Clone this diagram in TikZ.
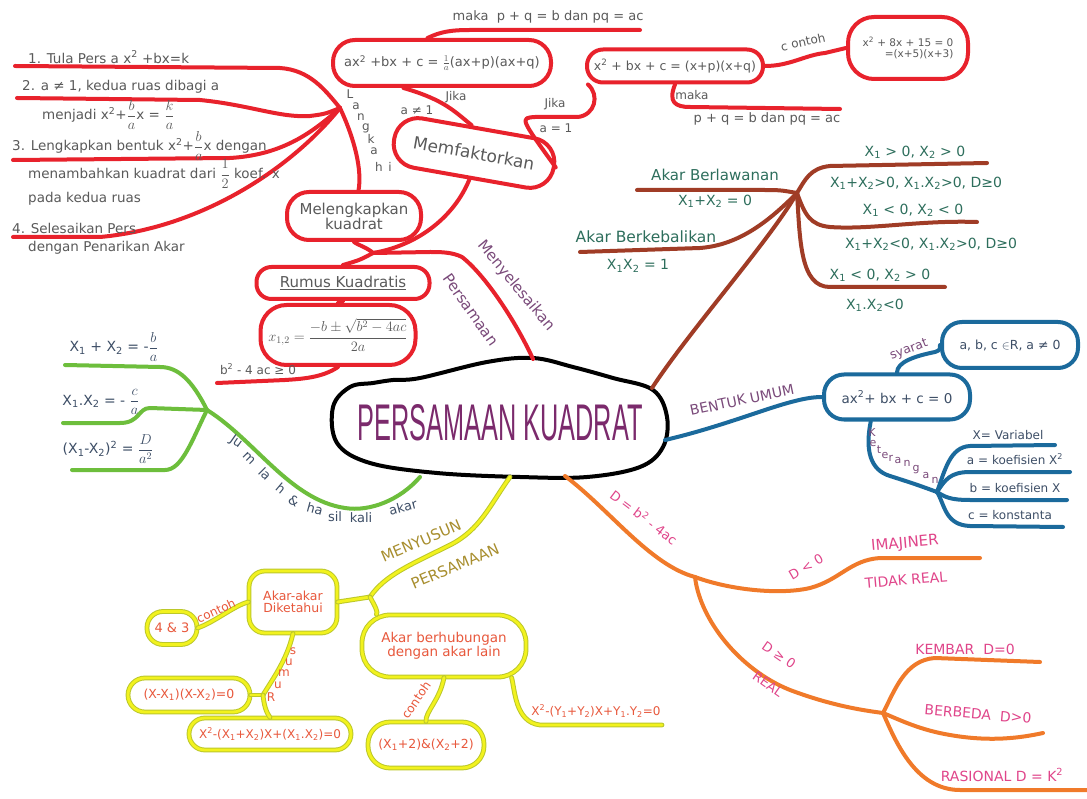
\documentclass[tikz,border=0pt]{standalone}
\usepackage{fontspec}
\usepackage{graphicx}
\setmainfont{DejaVu Sans}
\usetikzlibrary{shapes.geometric}
\newcommand\fsz[1]{\fontsize{#1}{#1}\selectfont}
\newcommand\Xone{X\textsubscript{1}}
\newcommand\Xtwo{X\textsubscript{2}}
\newcommand\spr[1]{\textsuperscript{#1}}
\newcommand\dfr[2]{$\displaystyle\frac{#1}{#2}$}
\definecolor{cred}{HTML}{E8222C}
\definecolor{cgreen}{HTML}{6DBE3C}
\definecolor{cyel}{HTML}{F2F21E}
\definecolor{cyedge}{HTML}{BCC82A}
\definecolor{cora}{HTML}{F07A2A}
\definecolor{cblue}{HTML}{1B6A9C}
\definecolor{cbrown}{HTML}{A03C26}
\definecolor{cgray}{HTML}{5A5A5A}
\definecolor{cpurp}{HTML}{7A4A7A}
\definecolor{cpink}{HTML}{E0458A}
\definecolor{cteal}{HTML}{2D6E5C}
\definecolor{cslate}{HTML}{3D4E66}
\definecolor{cgold}{HTML}{A88E2E}
\definecolor{cyt}{HTML}{E8583C}
\definecolor{ctitle}{HTML}{7B2A6C}
\begin{document}
\begin{tikzpicture}[x=1pt,y=-1pt,
  ln/.style={line width=4pt, line cap=round, line join=round},
  redl/.style={ln, draw=cred},
  grnl/.style={ln, draw=cgreen},
  yell/.style={draw=cyedge, double=cyel, double distance=2.8pt, line width=1pt, line cap=round, line join=round},
  oral/.style={ln, draw=cora},
  blul/.style={ln, draw=cblue},
  brol/.style={ln, draw=cbrown},
  rb/.style={rectangle, line width=4pt, inner sep=0pt, rounded corners=#1},
  yb/.style={rectangle, yell, inner sep=0pt, rounded corners=#1},
  t/.style={inner sep=0pt, text=cgray, font=\fsz{12}},
  tl/.style={t, anchor=west, font=\fsz{13.5}},
]
\useasboundingbox[fill=white] (0,0) rectangle (1087,799);

% ---------- centre ----------
\coordinate (cN) at (533,359);
\coordinate (cNE) at (652,388);
\coordinate (cE) at (665,440);
\coordinate (cSE) at (565,476);
\coordinate (cS) at (510,477);
\coordinate (cSW) at (420,477);
\draw[line width=4pt, black] plot[smooth cycle, tension=0.6] coordinates
 {(350,387) (373,383) (393,380) (420,378) (487,362) (533,358) (573,367) (613,378) (653,390) (667,417) (663,447) (640,467) (587,477) (520,477) (437,473) (370,463) (337,443) (333,407)};
\node[text=ctitle] (title) at (500,423) {\resizebox{285pt}{36pt}{\fontspec{Liberation Sans}PERSAMAAN KUADRAT}};

% ---------- red branch ----------
\coordinate (rj) at (373,253);
\coordinate (lh) at (340,108);
\node[rb=22pt, draw=cred, minimum width=134, minimum height=48, align=center, text=cgray, font=\fsz{15}] (mk) at (354,216) {Melengkapkan\\kuadrat};
\node[rb=24pt, draw=cred, minimum width=162, minimum height=50, text=cgray, font=\fsz{17}, rotate=-10] (mf) at (474,153) {Memfaktorkan};
\node[rb=22pt, draw=cred, minimum width=218, minimum height=46, text=cgray, font=\fsz{13}] (f1) at (442,63) {ax\spr{2} +bx + c = $\frac{1}{a}$(ax+p)(ax+q)};
\node[rb=16pt, draw=cred, minimum width=176, minimum height=33, text=cgray, font=\fsz{12.5}] (f2) at (675,66) {x\spr{2} + bx + c = (x+p)(x+q)};
\node[rb=26pt, draw=cred, minimum width=120, minimum height=62, text=cgray, font=\fsz{10.5}, align=right] (ex) at (908,48) {x\spr{2} + 8x + 15 = 0\\=(x+5)(x+3)};
\node[rb=15pt, draw=cred, minimum width=173, minimum height=32, text=cgray, font=\fsz{15}] (rk) at (343,283) {\underline{Rumus Kuadratis}};
\node[rb=26pt, draw=cred, minimum width=155, minimum height=60, text=cgray, font=\fsz{14}] (fb) at (338,335) {$\displaystyle x_{1,2}=\frac{-b\pm\sqrt{b^2-4ac}}{2a}$};

\draw[redl] (cN) .. controls (515,320) and (485,275) .. (462,257) .. controls (452,252) and (440,252) .. (430,252) -- (rj);
\draw[redl] (rj) .. controls (368,248) and (358,245) .. (mk.south);
\draw[redl] (rj) .. controls (420,245) and (455,215) .. (mf.south);
\draw[redl] (rj) .. controls (360,260) .. (rk.north);
\draw[redl] (rk.south) -- (fb.north);
\coordinate (bl) at (217,383);
\draw[redl] (fb.south) .. controls (322,378) and (300,379) .. (285,380) -- (bl);
\node[t, font=\fsz{12}] at (258,369) {b\spr{2} - 4 ac ≥ 0};

% Memfaktorkan sub-branches
\draw[redl] (mf.105) .. controls (455,112) and (445,100) .. (f1.213);
\node[t] at (456,97) {Jika};
\node[t] at (417,110) {a ≠ 1};
\coordinate (mk1) at (640,30);
\draw[redl] (f1.120) .. controls (440,32) and (450,30) .. (470,30) -- (mk1);
\node[t, font=\fsz{13}] at (548,17) {maka \ p + q = b dan pq = ac};
\draw[redl] (mf.east) .. controls (520,118) .. (535,117) -- (578,117) .. controls (595,115) and (600,95) .. (f2.192);
\node[t] at (555,104) {Jika};
\node[t] at (556,128) {a = 1};
\coordinate (mk2) at (840,109);
\draw[redl] (f2.south) .. controls (668,102) and (675,107) .. (690,107) -- (mk2);
\node[t] at (692,95) {maka};
\node[t, font=\fsz{13}] at (767,119) {p + q = b dan pq = ac};
\draw[redl] (f2.east) .. controls (790,66) and (805,55) .. (825,53) -- (ex.west);
\node[t, rotate=12] at (803,42) {c ontoh};

% Langkah
\draw[redl] (15,66) -- (280,68) .. controls (310,70) and (325,90) .. (lh);
\draw[redl] (17,98) -- (200,100) .. controls (250,105) and (280,118) .. (310,116) .. controls (325,114) .. (lh);
\draw[redl] (13,160) -- (230,158) .. controls (280,155) and (310,135) .. (lh);
\draw[redl] (13,237) -- (100,237) .. controls (200,228) and (290,170) .. (lh);
\draw[redl] (lh) .. controls (355,140) and (362,170) .. (mk.80);
\foreach \c/\x/\y in {L/350/94, a/356/106, n/361/117, g/366/128, k/371/139, a/374/151, h/379/167, i/390/167}
  \node[t, font=\fsz{12}] at (\x,\y) {\c};
\node[tl] at (28,57) {1. Tula Pers a x\spr{2} +bx=k};
\node[tl] at (22,87) {2. a ≠ 1, kedua ruas dibagi a};
\node[tl] at (42,115) {menjadi x\spr{2}+\dfr{b}{a}x = \dfr{k}{a}};
\node[tl] at (12,146) {3. Lengkapkan bentuk x\spr{2}+\dfr{b}{a}x dengan};
\node[tl] at (28,174) {menambahkan kuadrat dari \dfr{1}{2} koef. x};
\node[tl] at (28,199) {pada kedua ruas};
\node[tl] at (12,228) {4. Selesaikan Pers};
\node[tl] at (28,248) {dengan Penarikan Akar};
\node[t, text=cpurp, font=\fsz{15}, rotate=-50] at (516,286) {Menyelesaikan};
\node[t, text=cpurp, font=\fsz{15}, rotate=-55] at (471,310) {Persamaan};

% ---------- green branch ----------
\coordinate (gj) at (207,410);
\draw[grnl] (cSW) .. controls (400,500) and (370,512) .. (345,508) .. controls (290,500) and (255,440) .. (gj);
\draw[grnl] (gj) .. controls (192,380) and (178,367) .. (160,367) -- (65,365);
\draw[grnl] (gj) -- (150,408) .. controls (138,408) and (140,423) .. (120,423) -- (63,423);
\draw[grnl] (gj) .. controls (192,440) and (182,470) .. (165,470) -- (72,470);
\node[t, text=cslate, font=\fsz{14}] at (114,347) {\Xone{} + \Xtwo{} = -\dfr{b}{a}};
\node[t, text=cslate, font=\fsz{14}] at (101,402) {\Xone.\Xtwo{} = - \dfr{c}{a}};
\node[t, text=cslate, font=\fsz{14}] at (108,449) {(\Xone-\Xtwo)\spr{2} = \dfr{D}{a^2}};
\foreach \c/\x/\y/\r in {Ju/236/442/-35, m/249/458/-45, la/265/474/-45, h/281/488/-40, \&/294/501/-30, ha/315/509/-15, sil/335/517/0, kali/361/518/0, akar/403/507/15}
  \node[t, text=cslate, font=\fsz{13}, rotate=\r] at (\x,\y) {\c};

% ---------- yellow branch ----------
\coordinate (yj) at (370,597);
\coordinate (rj2) at (263,695);
\node[yb=16pt, minimum width=88, minimum height=62, align=center, text=cyt, font=\fsz{12.5}] (ad) at (293,602) {Akar-akar\\Diketahui};
\node[yb=28pt, minimum width=164, minimum height=62, align=center, text=cyt, font=\fsz{13.5}] (ab) at (444,646) {Akar berhubungan\\dengan akar lain};
\node[yb=16pt, minimum width=50, minimum height=33, text=cyt, font=\fsz{13}] (f43) at (172,628) {4 \& 3};
\node[yb=17pt, minimum width=122, minimum height=34, text=cyt, font=\fsz{12.5}] (x1) at (189,695) {(X-\Xone)(X-\Xtwo)=0};
\node[yb=16pt, minimum width=162, minimum height=32, text=cyt, font=\fsz{12}] (x2) at (270,734) {X\spr{2}-(\Xone+\Xtwo)X+(\Xone.\Xtwo)=0};
\node[yb=22pt, minimum width=116, minimum height=46, text=cyt, font=\fsz{12.5}] (x3) at (426,745) {(\Xone+2)\&(\Xtwo+2)};
\draw[yell] (cS) .. controls (490,505) and (480,530) .. (450,545) .. controls (410,565) and (385,575) .. (yj);
\draw[yell] (yj) -- (ad.east);
\draw[yell] (yj) .. controls (376,608) and (378,612) .. (ab.155);
\node[t, text=cgold, font=\fsz{15}, rotate=23] at (421,541) {MENYUSUN};
\node[t, text=cgold, font=\fsz{15}, rotate=23] at (455,566) {PERSAMAAN};
\draw[yell] (ad.west) .. controls (235,605) and (215,622) .. (f43.east);
\node[t, text=cyt, font=\fsz{12}, rotate=25] at (216,611) {contoh};
\draw[yell] (ad.south) .. controls (287,660) and (272,680) .. (rj2);
\foreach \c/\x/\y in {R/271/697, u/278/685, m/284/673, u/289/662, s/293/651}
  \node[t, text=cyt, font=\fsz{12}] at (\x,\y) {\c};
\draw[yell] (rj2) -- (x1.east);
\draw[yell] (rj2) .. controls (264,705) and (266,712) .. (x2.north);
\draw[yell] (ab.south) .. controls (440,700) and (425,712) .. (x3.north);
\node[t, text=cyt, font=\fsz{12}, rotate=55] at (416,700) {contoh};
\coordinate (yend) at (662,725);
\draw[yell] (ab.-25) .. controls (515,690) and (515,722) .. (540,725) -- (yend);
\node[t, text=cyt, font=\fsz{12}] at (596,711) {X\spr{2}-(Y\textsubscript{1}+Y\textsubscript{2})X+Y\textsubscript{1}.Y\textsubscript{2}=0};

% ---------- orange branch ----------
\coordinate (oj1) at (695,577);
\coordinate (oj2) at (883,713);
\draw[oral] (cSE) .. controls (610,510) and (650,565) .. (oj1);
\draw[oral] (oj1) .. controls (730,590) and (780,595) .. (810,588) .. controls (840,580) and (850,560) .. (880,558) -- (980,558);
\draw[oral] (oj1) .. controls (700,620) and (740,670) .. (790,690) .. controls (830,705) and (860,710) .. (oj2);
\draw[oral] (oj2) .. controls (895,690) and (905,660) .. (935,658) -- (1040,662);
\draw[oral] (oj2) .. controls (900,720) and (920,730) .. (950,735) .. controls (990,742) and (1020,738) .. (1043,733);
\draw[oral] (oj2) .. controls (895,740) and (915,790) .. (960,790) -- (1087,790);
\node[t, text=cpink, font=\fsz{13}, rotate=-37] at (644,517) {D = b\spr{2} - 4ac};
\node[t, text=cpink, font=\fsz{13}, rotate=30] at (806,567) {D < 0};
\node[t, text=cpink, font=\fsz{15}, rotate=5] at (905,544) {IMAJINER};
\node[t, text=cpink, font=\fsz{14}, rotate=5] at (906,580) {TIDAK REAL};
\node[t, text=cpink, font=\fsz{13}, rotate=-35] at (779,655) {D ≥ 0};
\node[t, text=cpink, font=\fsz{13}, rotate=-35] at (768,684) {REAL};
\node[t, text=cpink, font=\fsz{14}] at (965,649) {KEMBAR \ D=0};
\node[t, text=cpink, font=\fsz{14}, rotate=-5] at (978,714) {BERBEDA \ D>0};
\node[t, text=cpink, font=\fsz{14}] at (1002,775) {RASIONAL D = K\spr{2}};

% ---------- blue branch ----------
\coordinate (kj) at (937,492);
\node[rb=20pt, draw=cblue, minimum width=146, minimum height=45, text=cslate, font=\fsz{13.5}] (bu) at (897,397) {ax\spr{2}+ bx + c = 0};
\node[rb=20pt, draw=cblue, minimum width=136, minimum height=46, text=cslate, font=\fsz{12.5}] (sy) at (1010,345) {a, b, c $\in$R, a ≠ 0};
\draw[blul] (cE) .. controls (700,432) and (735,420) .. (765,410) .. controls (795,400) and (810,397) .. (bu.west);
\node[t, text=cpurp, font=\fsz{14}, rotate=12] at (742,400) {BENTUK UMUM};
\draw[blul] (bu.north) .. controls (897,362) and (915,356) .. (935,352) .. controls (940,350) .. (sy.west);
\node[t, text=cpurp, font=\fsz{12.5}, rotate=20] at (909,350) {syarat};
\draw[blul] (bu.223) .. controls (865,450) and (870,470) .. (890,476) .. controls (915,484) .. (kj);
\foreach \c/\x/\y in {K/872/432, e/873/443, t/879/450, e/885/455, r/891/458, a/898/460, n/907/463, g/916/470, a/926/475, n/935/480}
  \node[t, text=cpurp, font=\fsz{11}] at (\x,\y) {\c};
\draw[blul] (kj) .. controls (945,470) and (950,447) .. (970,446) -- (1055,445);
\draw[blul] (kj) .. controls (945,480) and (950,472) .. (970,472) -- (1070,472);
\draw[blul] (kj) .. controls (945,497) and (950,500) .. (970,500) -- (1067,500);
\draw[blul] (kj) .. controls (945,505) and (945,525) .. (970,526) -- (1063,527);
\node[t, text=cslate] at (1008,435) {X= Variabel};
\node[t, text=cslate] at (1015,459) {a = koefisien X\spr{2}};
\node[t, text=cslate] at (1015,488) {b = koefisien X};
\node[t, text=cslate] at (1010,515) {c = konstanta};

% ---------- brown branch ----------
\coordinate (bj) at (797,193);
\draw[brol] (cNE) .. controls (690,330) and (770,240) .. (bj);
\draw[brol] (637,190) -- (760,190) .. controls (780,190) .. (bj);
\draw[brol] (580,252) -- (700,248) .. controls (740,245) and (770,220) .. (bj);
\draw[brol] (bj) .. controls (805,180) and (810,168) .. (830,166) -- (987,163);
\draw[brol] (bj) .. controls (805,215) and (810,225) .. (830,227) .. controls (870,230) and (920,220) .. (977,222);
\draw[brol] (bj) .. controls (800,240) and (800,287) .. (830,287) -- (945,287);
\node[t, text=cteal, font=\fsz{15}] at (715,175) {Akar Berlawanan};
\node[t, text=cteal, font=\fsz{14}] at (715,201) {\Xone+\Xtwo{} = 0};
\node[t, text=cteal, font=\fsz{15.5}] at (646,237) {Akar Berkebalikan};
\node[t, text=cteal, font=\fsz{14}] at (638,266) {\Xone\Xtwo{} = 1};
\node[t, text=cteal, font=\fsz{14}] at (915,152) {\Xone{} > 0, \Xtwo{} > 0};
\node[t, text=cteal, font=\fsz{14}] at (916,183) {\Xone+\Xtwo>0, \Xone.\Xtwo>0, D≥0};
\node[t, text=cteal, font=\fsz{14}] at (913,210) {\Xone{} < 0, \Xtwo{} < 0};
\node[t, text=cteal, font=\fsz{14}] at (931,244) {\Xone+\Xtwo<0, \Xone.\Xtwo>0, D≥0};
\node[t, text=cteal, font=\fsz{14}] at (880,275) {\Xone{} < 0, \Xtwo{} > 0};
\node[t, text=cteal, font=\fsz{14}] at (875,305) {\Xone.\Xtwo<0};
\end{tikzpicture}
\end{document}
